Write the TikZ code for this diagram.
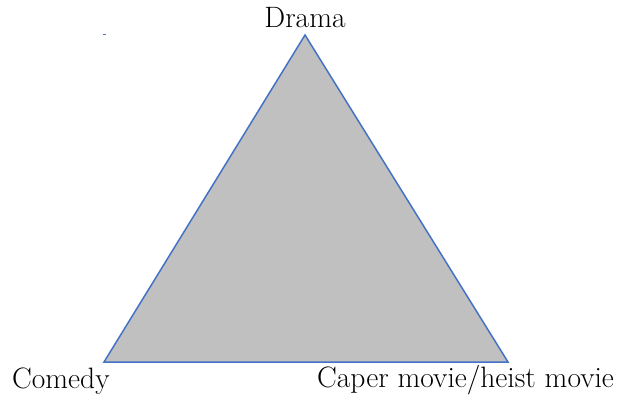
\documentclass[tikz,border=0pt]{standalone}
\usetikzlibrary{positioning}
\definecolor{edgeblue}{HTML}{4472C4}
\definecolor{fillgray}{HTML}{C0C0C0}
\begin{document}
\begin{tikzpicture}[x=1pt,y=-1pt,
  lbl/.style={font=\fontsize{29.5}{33}\selectfont, inner sep=0pt, anchor=base},
  tri/.style={draw=edgeblue, fill=fillgray, line width=1.5pt, line join=miter}]
\useasboundingbox (0,0) rectangle (618,398);
\coordinate (top) at (305,35);
\coordinate (bl) at (104,362);
\coordinate (br) at (508,362);
\draw[tri] (top) -- (bl) -- (br) -- cycle;
\coordinate (m1) at (103,34.5);
\coordinate (m2) at (106,34.5);
\draw[edgeblue, line width=1.5pt] (m1) -- (m2);
\node[lbl] (drama) at (305,28) {Drama};
\node[lbl, anchor=base west] (comedy) at (12,388) {Comedy};
\node[lbl, anchor=base west] (caper) at (317,387) {Caper movie/heist movie};
\end{tikzpicture}
\end{document}
